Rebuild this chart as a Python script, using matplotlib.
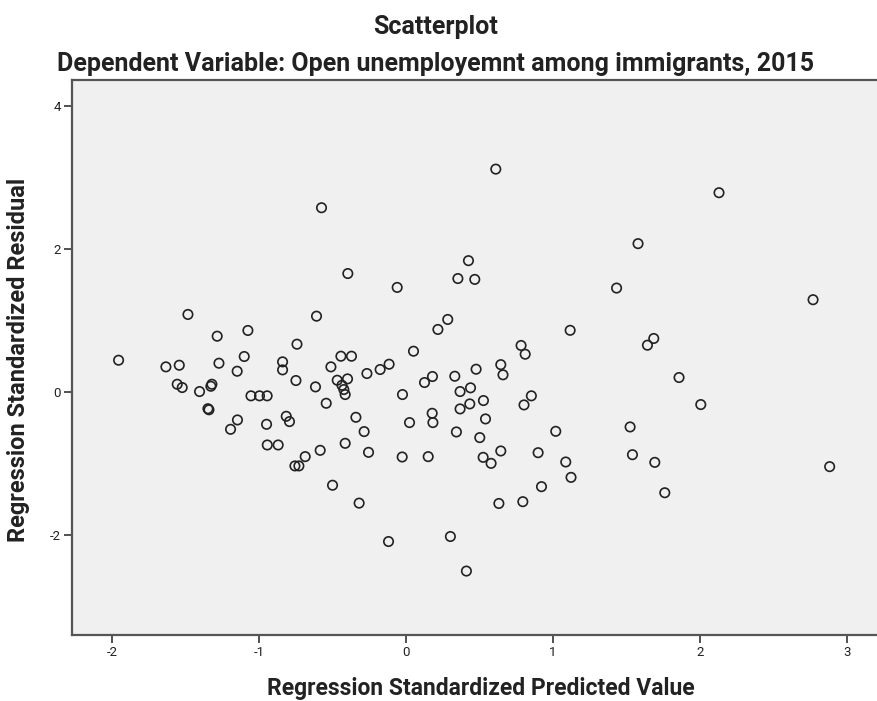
import matplotlib
matplotlib.use('Agg')
import matplotlib.pyplot as plt

plt.rcParams['font.family'] = ['Roboto', 'DejaVu Sans']
plt.rcParams['axes.unicode_minus'] = False

# regression standardized predicted value / residual
pred = [-1.955, -1.633, -1.542, -1.483, -1.556, -1.522, -1.404, -1.320, -1.327, -1.340,
        -1.347, -1.284, -1.272, -1.193, -1.146, -1.148, -1.100, -1.075, -1.054, -0.996,
        -0.944, -0.948, -0.943, -0.869, -0.839, -0.839, -0.814, -0.792, -0.755, -0.728,
        -0.748, -0.741, -0.685, -0.615, -0.608, -0.583, -0.574, -0.542, -0.510, -0.499,
        -0.467, -0.442, -0.435, -0.422, -0.413, -0.413, -0.397, -0.395, -0.370, -0.340,
        -0.318, -0.284, -0.265, -0.254, -0.175, -0.118, -0.114, -0.059, -0.025, -0.023,
        0.025, 0.052, 0.127, 0.152, 0.181, 0.179, 0.184, 0.218, 0.285, 0.303,
        0.333, 0.344, 0.354, 0.369, 0.369, 0.412, 0.426, 0.435, 0.440, 0.469,
        0.478, 0.503, 0.526, 0.528, 0.542, 0.580, 0.612, 0.633, 0.646, 0.646,
        0.661, 0.784, 0.796, 0.804, 0.812, 0.854, 0.900, 0.923, 1.020, 1.088,
        1.118, 1.124, 1.434, 1.526, 1.542, 1.580, 1.644, 1.687, 1.694, 1.762,
        1.859, 2.007, 2.131, 2.771, 2.884]
resid = [0.448, 0.355, 0.378, 1.088, 0.112, 0.066, 0.010, 0.112, 0.084, -0.245,
         -0.230, 0.784, 0.406, -0.518, -0.387, 0.294, 0.500, 0.864, -0.050, -0.050,
         -0.050, -0.448, -0.737, -0.737, 0.425, 0.313, -0.336, -0.410, -1.030, -1.030,
         0.164, 0.672, -0.900, 0.075, 1.064, -0.812, 2.580, -0.154, 0.355, -1.300,
         0.168, 0.504, 0.098, 0.038, -0.032, -0.714, 0.187, 1.660, 0.504, -0.350,
         -1.550, -0.550, 0.262, -0.840, 0.318, -2.087, 0.392, 1.466, -0.905, -0.032,
         -0.424, 0.574, 0.136, -0.900, 0.220, -0.294, -0.424, 0.878, 1.018, -2.017,
         0.224, -0.555, 1.590, 0.010, -0.233, -2.500, 1.840, -0.163, 0.062, 1.578,
         0.322, -0.634, -0.910, -0.116, -0.373, -0.994, 3.120, -1.555, 0.386, -0.821,
         0.244, 0.654, -1.530, -0.177, 0.532, -0.050, -0.845, -1.320, -0.546, -0.975,
         0.866, -1.190, 1.457, -0.485, -0.873, 2.078, 0.658, 0.752, -0.980, -1.405,
         0.206, -0.172, 2.790, 1.294, -1.040]

xticks = [-2, -1, 0, 1, 2, 3]
yticks = [-2, 0, 2, 4]

W, H = 878, 701
fig = plt.figure(figsize=(W / 100, H / 100), dpi=100)
# plot box: left 72px, top 80px, bottom 635px, runs off the right edge
ax = fig.add_axes([72 / W, 1 - 635 / H, 1 - 72 / W, (635 - 80) / H])
ax.set_facecolor('#f0f0f0')

ax.scatter(pred, resid, s=46, facecolors='none', edgecolors='#222222', linewidths=1.2, zorder=3)

ax.set_xlim(-2.272, 3.213)
ax.set_ylim(-3.394, 4.366)
ax.set_xticks(xticks)
ax.set_yticks(yticks)
ax.tick_params(direction='out', length=6, width=1.2, color='#333333', labelsize=9.5, pad=2,
               labelcolor='#222222')

for side in ['left', 'bottom', 'top']:
    ax.spines[side].set_color('#555555')
    ax.spines[side].set_linewidth(1.6)
ax.spines['right'].set_visible(False)

fig.text(481 / W, 1 - 688 / H, 'Regression Standardized Predicted Value', ha='center', va='center',
         fontsize=16.5, fontweight='bold', color='#222222')
fig.text(19 / W, 1 - 360 / H, 'Regression Standardized Residual', ha='center', va='center',
         rotation=90, fontsize=17, fontweight='bold', color='#222222')

fig.text(436 / W, 1 - 34 / H, 'Scatterplot', ha='center', va='baseline', fontsize=18,
         fontweight='bold', color='#222222')
fig.text(436 / W, 1 - 70.5 / H, 'Dependent Variable: Open unemployemnt among immigrants, 2015',
         ha='center', va='baseline', fontsize=18, fontweight='bold', color='#222222')

fig.savefig('out.png', dpi=100)
